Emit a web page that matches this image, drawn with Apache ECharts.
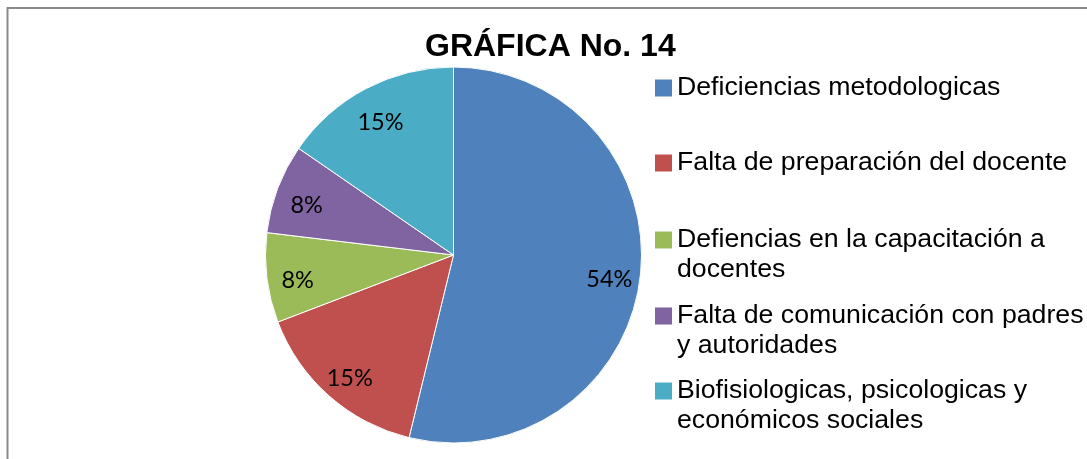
<!DOCTYPE html>
<html>
<head>
<meta charset="utf-8">
<script src="https://cdn.jsdelivr.net/npm/echarts@6/dist/echarts.min.js"></script>
<style>
html,body{margin:0;padding:0;background:#fff;}
#c{width:1087px;height:459px;}
</style>
</head>
<body>
<div id="c"></div>
<script>
const titleText = 'GRÁFICA No. 14';
const categories = [
  'Deficiencias metodologicas',
  'Falta de preparación del docente',
  'Defiencias en la capacitación a docentes',
  'Falta de comunicación con padres y autoridades',
  'Biofisiologicas, psicologicas y económicos sociales'
];
const legendLines = [
  ['Deficiencias metodologicas'],
  ['Falta de preparación del docente'],
  ['Defiencias en la capacitación a', 'docentes'],
  ['Falta de comunicación con padres', 'y autoridades'],
  ['Biofisiologicas, psicologicas y', 'económicos sociales']
];
const percents = [53.8, 15.4, 7.7, 7.7, 15.4];
const palette = ['#4F81BD', '#C0504D', '#9BBB59', '#8064A2', '#4BACC6'];

const pieData = categories.map((n, i) => ({ name: n, value: percents[i], itemStyle: { color: palette[i] } }));
const labelData = categories.map((n, i) => ({ name: n, value: percents[i] }));

// first-line centre of each legend entry
const legendCenters = [88, 163, 240, 316, 391];
const LH = 30;
const legends = categories.map((n, i) => {
  const lines = legendLines[i];
  const multi = lines.length > 1;
  // for wrapped entries, a blank leading line keeps the first line centred on the marker
  const text = multi ? ['', ...lines].join('\n') : lines[0];
  const nLines = multi ? lines.length + 1 : 1;
  return {
    data: [n],
    orient: 'vertical',
    left: 655,
    top: legendCenters[i] - nLines * LH / 2,
    padding: 0,
    itemWidth: 17,
    itemHeight: 17,
    icon: 'rect',
    selectedMode: false,
    itemStyle: { borderWidth: 0 },
    formatter: () => text,
    textStyle: {
      fontFamily: '"Liberation Sans", Arial, sans-serif',
      fontSize: 26.7,
      color: '#000',
      lineHeight: LH
    }
  };
});

const chart = echarts.init(document.getElementById('c'), null, { renderer: 'canvas' });
chart.setOption({
  animation: false,
  backgroundColor: '#fff',
  graphic: [{
    type: 'rect',
    shape: { x: 7.5, y: 8, width: 2000, height: 2000 },
    style: { fill: 'none', stroke: '#8a8a8a', lineWidth: 2 },
    silent: true
  }],
  title: {
    text: titleText,
    left: 425,
    top: 31,
    padding: 0,
    textStyle: {
      fontFamily: '"Liberation Sans", Arial, sans-serif',
      fontWeight: 'bold',
      fontSize: 32,
      color: '#000'
    }
  },
  legend: legends,
  series: [
    {
      type: 'pie',
      center: [453.5, 255],
      radius: [0, 188],
      startAngle: 90,
      clockwise: true,
      silent: true,
      label: { show: false },
      labelLine: { show: false },
      itemStyle: { borderColor: '#ffffff', borderWidth: 1 },
      data: pieData
    },
    {
      type: 'pie',
      center: [453.5, 255],
      radius: [120, 188],
      startAngle: 90,
      clockwise: true,
      silent: true,
      itemStyle: { color: 'rgba(0,0,0,0)', borderWidth: 0 },
      label: {
        show: true,
        position: 'inside',
        rotate: 0,
        fontFamily: 'Lato, "Open Sans", sans-serif',
        fontSize: 23.5,
        color: '#000',
        formatter: p => '{s|}\n{v|' + Math.round(p.percent) + '%}',
        rich: {
          s: { lineHeight: 12, fontSize: 1 },
          v: { lineHeight: 24, fontSize: 23.5, fontFamily: 'Lato, "Open Sans", sans-serif', color: '#000' }
        }
      },
      labelLine: { show: false },
      data: labelData
    }
  ]
});
</script>
</body>
</html>
